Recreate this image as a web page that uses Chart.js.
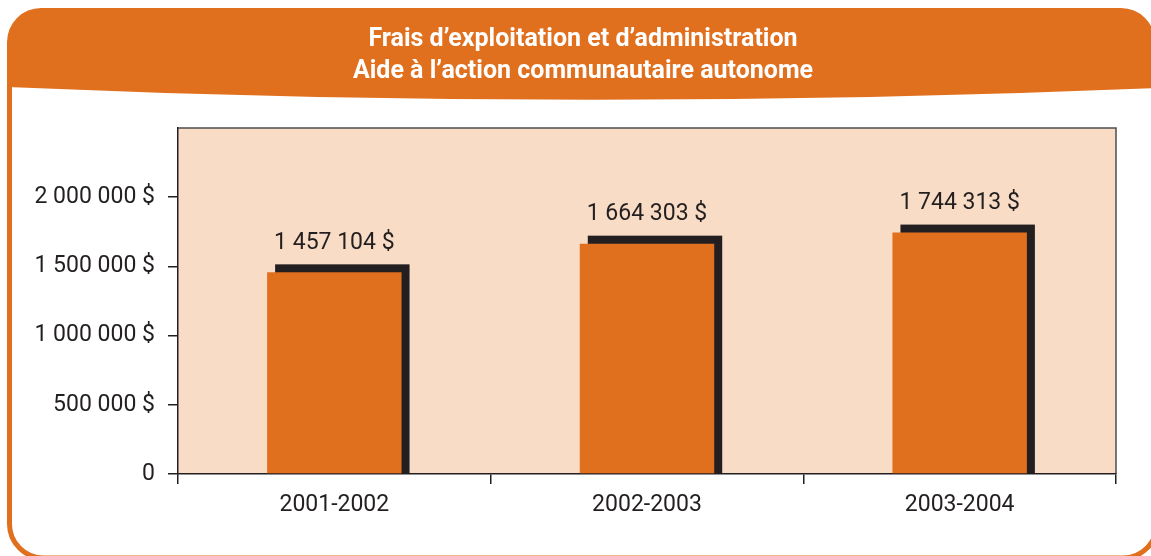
<!DOCTYPE html>
<html lang="fr">
<head>
<meta charset="utf-8">
<title>Frais d’exploitation et d’administration</title>
<script src="https://cdn.jsdelivr.net/npm/chart.js@4.4.1/dist/chart.umd.min.js"></script>
<style>
    body { margin: 0; background: #ffffff; }
    #wrap { width: 1151px; height: 556px; position: relative; }
</style>
</head>
<body>
<div id="wrap"><canvas id="fraisChart"></canvas></div>
<script>
/* =========================
   DATA
========================= */

const titreLignes = [
    "Frais d’exploitation et d’administration",
    "Aide à l’action communautaire autonome"
];

const annees = ["2001-2002", "2002-2003", "2003-2004"];

const montants = [1457104, 1664303, 1744313];

const yTicks = [0, 500000, 1000000, 1500000, 2000000];
const yMax = 2500000;

/* =========================
   STYLE
========================= */

const ORANGE = "#e1701e";
const PEACH = "#f9dcc5";
const DARK = "#231f20";
const FONT = "'Liberation Sans Narrow', 'Roboto', sans-serif";

function formatDollar(v) {
    if (v === 0) return "0";
    return String(v).replace(/\B(?=(\d{3})+(?!\d))/g, " ") + " $";
}

/* =========================
   FRAME + BANNER
========================= */

const framePlugin = {
    id: "frame",
    beforeDraw(chart) {
        const ctx = chart.ctx;
        const a = chart.chartArea;
        const L = 9.5, R = 1157, B = 558, r = 34;

        ctx.save();

        // banner
        ctx.fillStyle = ORANGE;
        ctx.beginPath();
        ctx.moveTo(7, 88);
        ctx.lineTo(7, 8 + r);
        ctx.arcTo(7, 8, 7 + r, 8, r);
        ctx.lineTo(1155 - r, 8);
        ctx.arcTo(1155, 8, 1155, 8 + r, r);
        ctx.lineTo(1155, 88);
        ctx.quadraticCurveTo(583, 112, 7, 87);
        ctx.closePath();
        ctx.fill();

        // border
        ctx.strokeStyle = ORANGE;
        ctx.lineWidth = 5;
        ctx.beginPath();
        ctx.moveTo(L, 60);
        ctx.lineTo(L, B - r);
        ctx.arcTo(L, B, L + r, B, r);
        ctx.lineTo(R - r, B);
        ctx.arcTo(R, B, R, B - r, r);
        ctx.lineTo(R, 60);
        ctx.stroke();

        // title
        ctx.fillStyle = "#ffffff";
        ctx.font = "bold 25px " + FONT;
        ctx.textAlign = "center";
        ctx.textBaseline = "middle";
        ctx.fillText(titreLignes[0], 583, 40);
        ctx.fillText(titreLignes[1], 583, 72);

        // plot background
        ctx.fillStyle = PEACH;
        ctx.fillRect(a.left, a.top, a.right - a.left, a.bottom - a.top);
        ctx.strokeStyle = "#4d4d4d";
        ctx.lineWidth = 1.5;
        ctx.beginPath();
        ctx.moveTo(a.left, a.top);
        ctx.lineTo(a.right, a.top);
        ctx.lineTo(a.right, a.bottom);
        ctx.stroke();

        ctx.restore();
    }
};

/* =========================
   BAR SHADOW + LABELS
========================= */

const barPlugin = {
    id: "barShadow",
    beforeDatasetsDraw(chart) {
        const ctx = chart.ctx;
        const meta = chart.getDatasetMeta(0);

        ctx.save();
        ctx.fillStyle = DARK;

        meta.data.forEach(bar => {
            const w = bar.width;
            ctx.fillRect(bar.x - w / 2 + 8, bar.y - 8, w, bar.base - bar.y + 8);
        });

        ctx.restore();
    },
    afterDatasetsDraw(chart) {
        const ctx = chart.ctx;
        const meta = chart.getDatasetMeta(0);

        ctx.save();
        ctx.fillStyle = DARK;
        ctx.font = "23px " + FONT;
        ctx.textAlign = "center";
        ctx.textBaseline = "middle";

        meta.data.forEach((bar, i) => {
            ctx.fillText(formatDollar(montants[i]), bar.x, bar.y - 29);
        });

        ctx.restore();
    }
};

/* =========================
   CHART
========================= */

new Chart(document.getElementById("fraisChart"), {

    type: "bar",

    data: {
        labels: annees,
        datasets: [{
            data: montants,
            backgroundColor: ORANGE,
            borderWidth: 0,
            barPercentage: 0.43,
            categoryPercentage: 1
        }]
    },

    options: {
        responsive: true,
        maintainAspectRatio: false,
        animation: false,
        layout: {
            padding: { left: 0, right: 35, top: 128, bottom: 0 }
        },
        plugins: {
            legend: { display: false },
            title: { display: false },
            tooltip: { enabled: false }
        },
        scales: {
            x: {
                afterFit(scale) { scale.height = 82; },
                grid: {
                    offset: true,
                    drawOnChartArea: false,
                    tickLength: 10,
                    color: DARK,
                    lineWidth: 1.5
                },
                border: { color: DARK, width: 1.5 },
                ticks: {
                    color: DARK,
                    padding: 7,
                    font: { family: FONT, size: 23 }
                }
            },
            y: {
                min: 0,
                max: yMax,
                afterFit(scale) { scale.width = 178; },
                afterBuildTicks(scale) {
                    scale.ticks = yTicks.map(v => ({ value: v }));
                },
                grid: {
                    drawOnChartArea: false,
                    tickLength: 10,
                    color: DARK,
                    lineWidth: 1.5
                },
                border: { color: DARK, width: 1.5 },
                ticks: {
                    color: DARK,
                    padding: 13,
                    font: { family: FONT, size: 23 },
                    callback: v => formatDollar(v)
                }
            }
        }
    },

    plugins: [framePlugin, barPlugin]

});
</script>
</body>
</html>
